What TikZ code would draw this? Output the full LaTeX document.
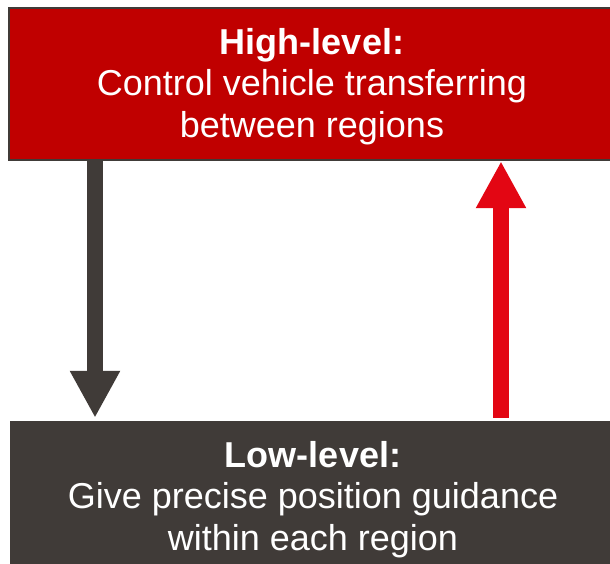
\documentclass[tikz,border=0pt]{standalone}
\usepackage{fontspec}
\setmainfont{Liberation Sans}
\usetikzlibrary{arrows.meta}
\definecolor{hired}{HTML}{C00000}
\definecolor{darkgrey}{HTML}{403B38}
\definecolor{brightred}{HTML}{E30613}
\tikzset{
  levelbox/.style={minimum width=606pt, minimum height=152pt, inner sep=0pt},
  leveltext/.style={align=center, text=white, inner sep=0pt,
    font=\fontsize{36}{41.5}\selectfont},
  bigarrow/.style={line width=16pt, -{Triangle[width=47pt,length=47pt]}},
}
\begin{document}
\begin{tikzpicture}[x=1pt,y=1pt]
  \clip (0,0) rectangle (610,563);
  % upper level box and its text
  \node[levelbox, fill=hired, draw=darkgrey, line width=2.5pt] (high) at (312,479) {};
  \node[leveltext] (hightext) at ([yshift=-2.5pt]high.center)
    {\textbf{High-level:}\\Control vehicle transferring\\between regions};
  % lower level box and its text
  \node[levelbox, fill=darkgrey] (low) at (313,66) {};
  \node[leveltext] (lowtext) at ([yshift=-2.5pt]low.center)
    {\textbf{Low-level:}\\Give precise position guidance\\within each region};
  % downward and upward connectors
  \draw[bigarrow, darkgrey, shorten >=3pt] (high.south -| 95,0) -- (low.north -| 95,0);
  \draw[bigarrow, brightred, shorten <=3pt] (low.north -| 501,0) -- (high.south -| 501,0);
\end{tikzpicture}
\end{document}
